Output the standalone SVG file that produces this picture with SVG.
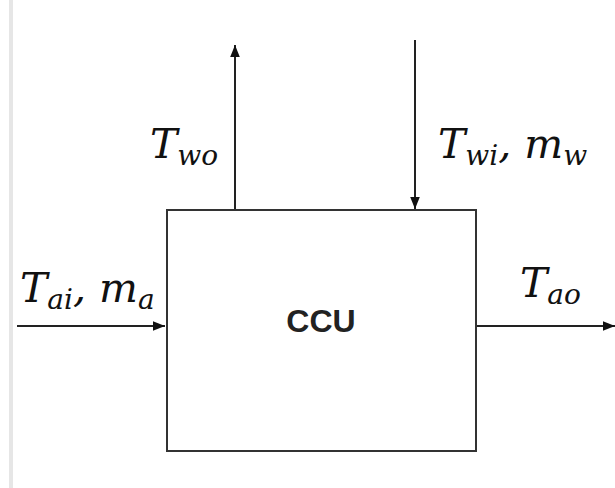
<svg xmlns="http://www.w3.org/2000/svg" width="615" height="488" viewBox="0 0 615 488">
<style>
.ln{stroke:#222;stroke-width:2;fill:none}
.m{font-family:"DejaVu Serif","Liberation Serif",serif;font-style:italic;fill:#111}
.T{font-size:41px}
.s{font-size:28px}
</style>
<defs>
<marker id="ah" viewBox="0 0 10 10" refX="10" refY="5" markerWidth="12" markerHeight="12" markerUnits="userSpaceOnUse" orient="auto">
<path d="M0,1 L10,5 L0,9 z" fill="#111"/>
</marker>
</defs>
<rect width="615" height="488" fill="#fff"/>
<line x1="11" y1="0" x2="11" y2="488" stroke="#e6e6e6" stroke-width="4"/>
<g id="ccu">
<rect x="167" y="210" width="309" height="241" fill="#fff" stroke="#333" stroke-width="2"/>
<text x="321" y="332" text-anchor="middle" font-family="Liberation Sans,Arial,sans-serif" font-weight="bold" font-size="32" fill="#222">CCU</text>
</g>
<g id="connectors">
<line class="ln" x1="235" y1="209" x2="235" y2="45" marker-end="url(#ah)"/>
<line class="ln" x1="415" y1="40" x2="415" y2="209" marker-end="url(#ah)"/>
<line class="ln" x1="17" y1="326" x2="165" y2="326" marker-end="url(#ah)"/>
<line class="ln" x1="477" y1="326" x2="615" y2="326" marker-end="url(#ah)"/>
</g>
<g id="labels">
<text class="m" x="150" y="158"><tspan class="T">T</tspan><tspan class="s" dy="7">wo</tspan></text>
<text class="m" x="438" y="158"><tspan class="T">T</tspan><tspan class="s" dy="7">wi</tspan><tspan class="T" dy="-7">, m</tspan><tspan class="s" dy="7">w</tspan></text>
<text class="m" x="520" y="297"><tspan class="T">T</tspan><tspan class="s" dy="7">ao</tspan></text>
<text class="m" x="20" y="302"><tspan class="T">T</tspan><tspan class="s" dy="7">ai</tspan><tspan class="T" dy="-7">, m</tspan><tspan class="s" dy="7">a</tspan></text>
</g>
</svg>
